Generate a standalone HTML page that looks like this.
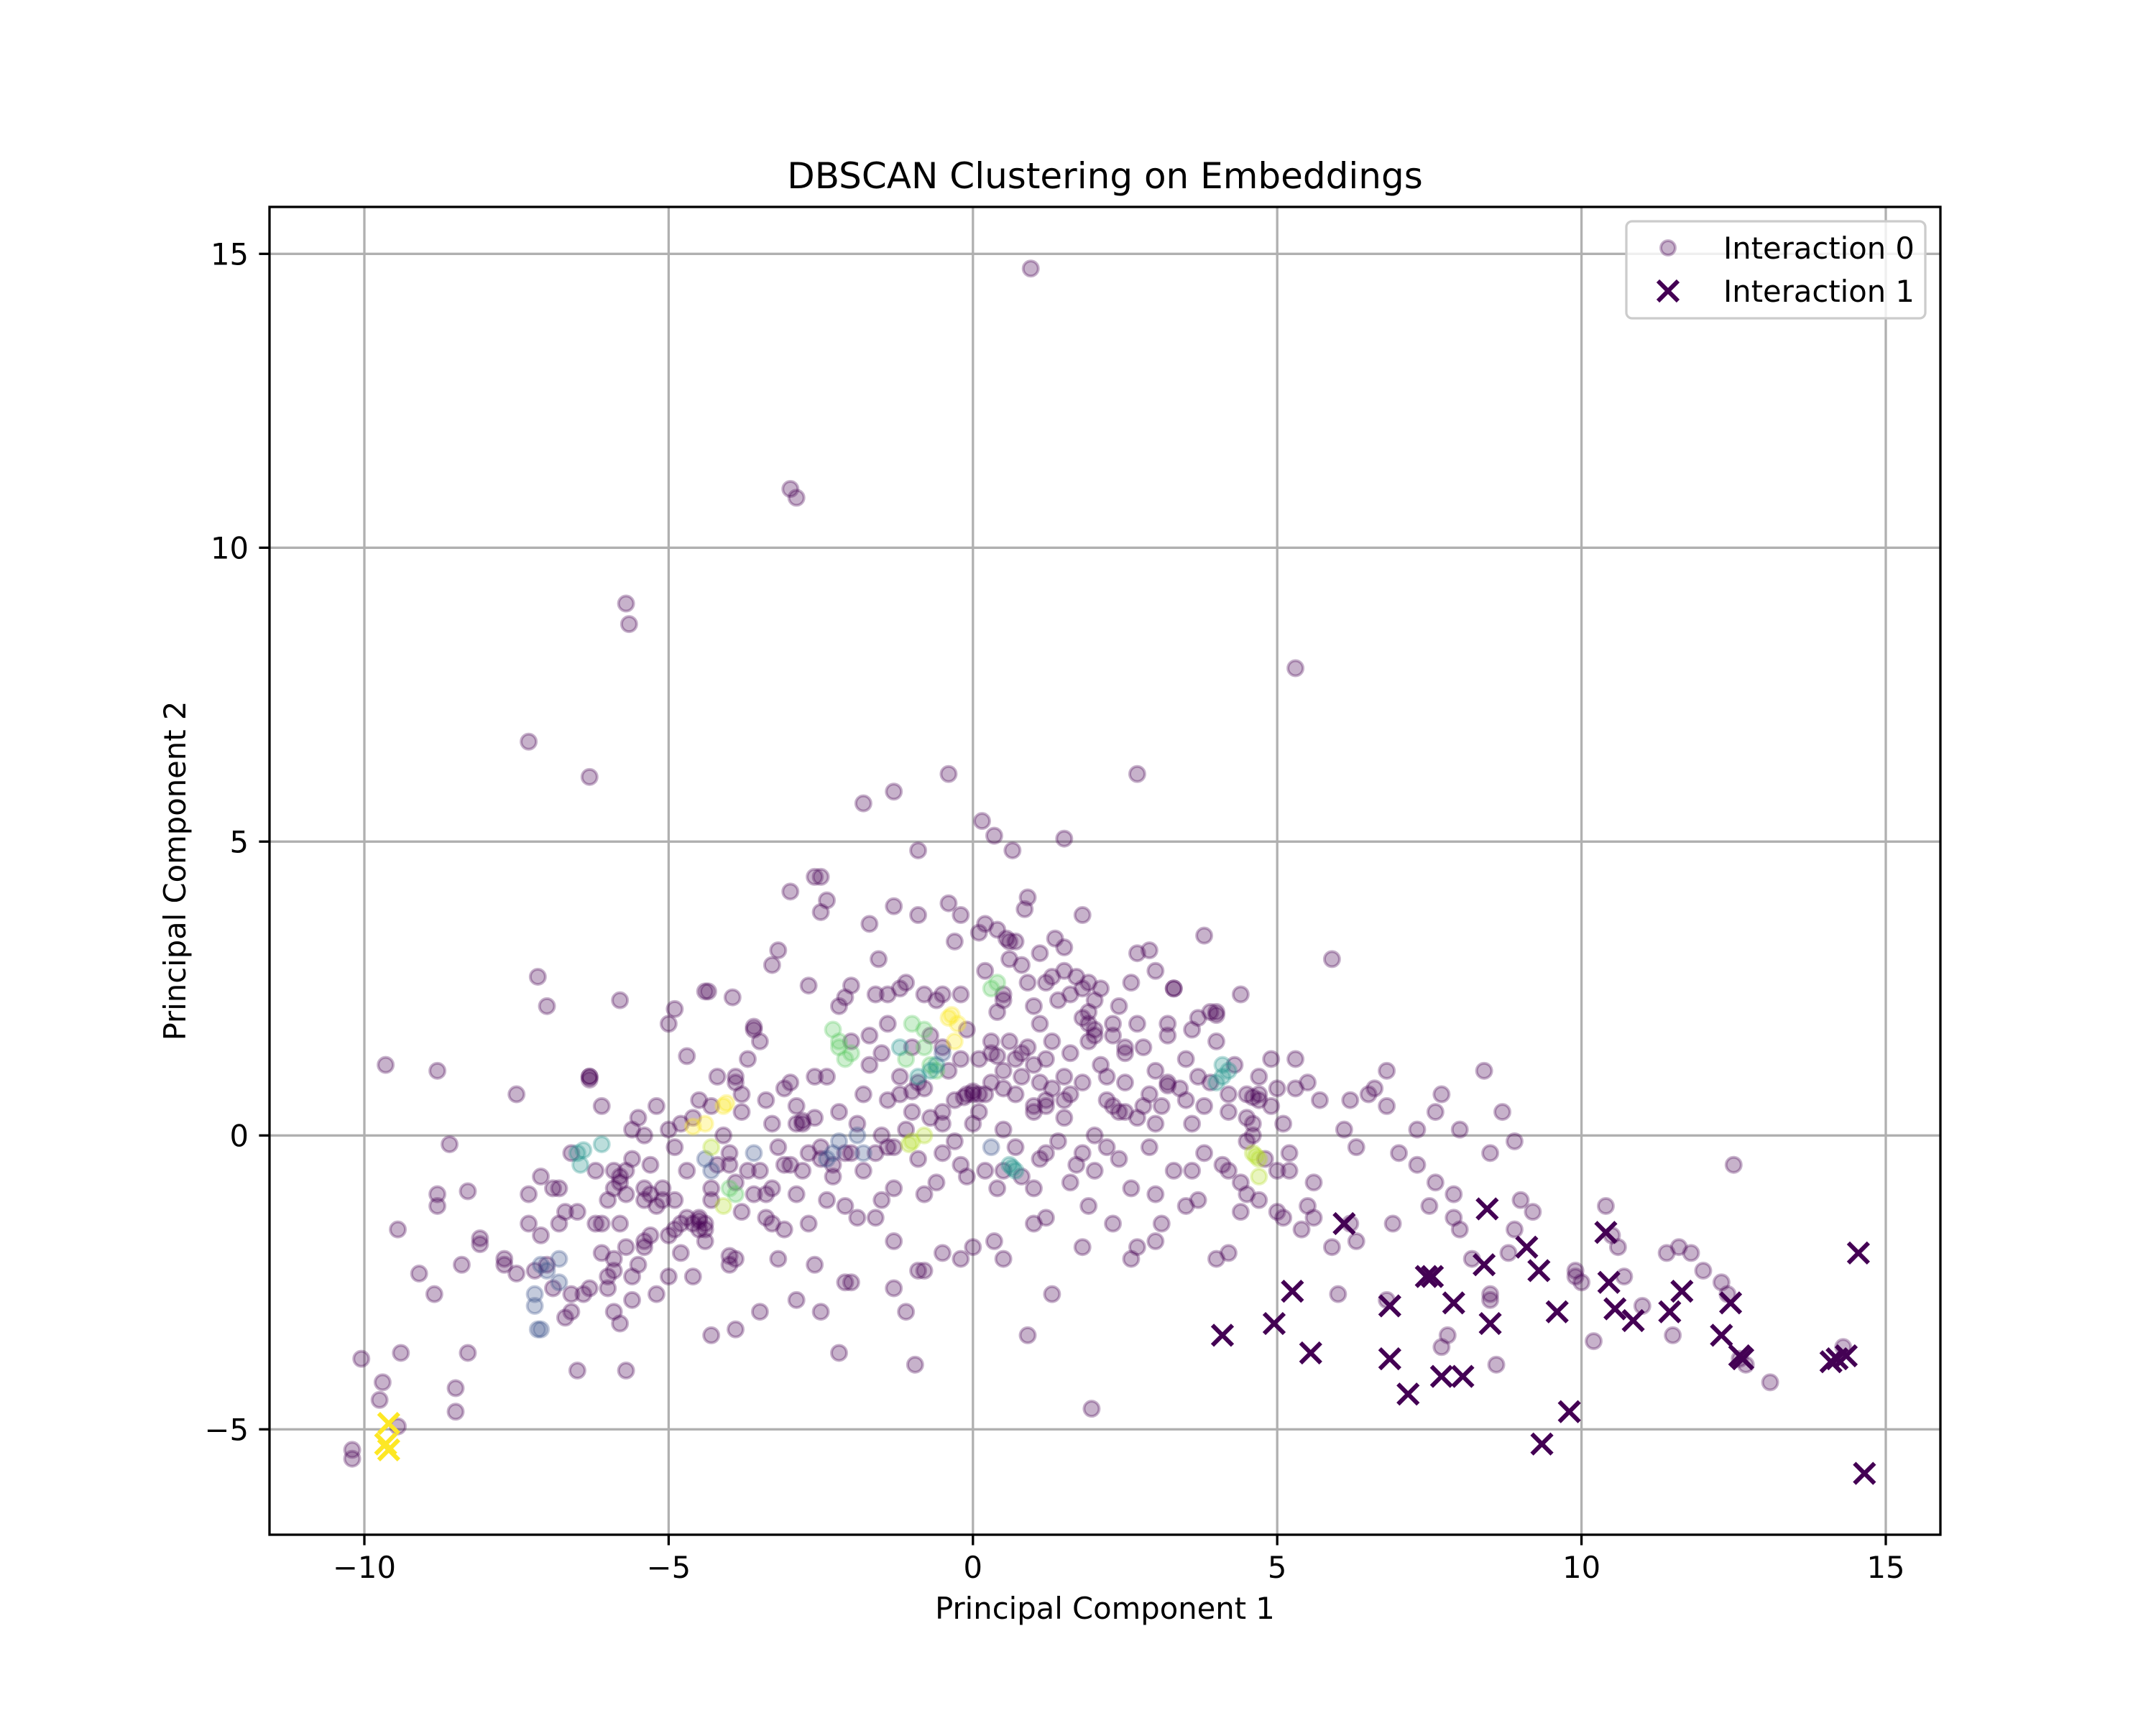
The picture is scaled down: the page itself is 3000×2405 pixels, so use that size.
<!DOCTYPE html>
<html><head><meta charset="utf-8"><style>
html,body{margin:0;padding:0;background:#fff;}
svg text{font-family:"DejaVu Sans","Liberation Sans",sans-serif;fill:#000;}
</style></head><body>
<svg id="chart" width="3000" height="2400" viewBox="0 0 3000 2400" xmlns="http://www.w3.org/2000/svg">
<rect x="0" y="0" width="3000" height="2400" fill="#fff"/>
<g id="grid"></g>
<g id="marks"></g>
<rect x="375" y="288" width="2325" height="1848" fill="none" stroke="#000" stroke-width="3.3"/>
<g id="ticks"></g>
<text x="1537.5" y="262" font-size="50" text-anchor="middle">DBSCAN Clustering on Embeddings</text>
<text x="1537.5" y="2253" font-size="41.7" text-anchor="middle">Principal Component 1</text>
<text x="0" y="0" font-size="41.7" text-anchor="middle" transform="translate(258,1212) rotate(-90)">Principal Component 2</text>
<g>
<rect x="2263" y="308" width="416" height="135" rx="8" fill="#fff" fill-opacity="0.8" stroke="#cccccc" stroke-width="3.3"/>
<circle cx="2321" cy="345" r="10" fill="rgba(68,1,84,0.3)" stroke="rgba(68,1,84,0.3)" stroke-width="4"/>
<path d="M2307 391 L2335 419 M2335 391 L2307 419" stroke="#440154" stroke-width="6"/>
<text x="2398" y="360" font-size="41.7">Interaction 0</text>
<text x="2398" y="420" font-size="41.7">Interaction 1</text>
</g>
</svg>
<script>
const xTicks = [-10, -5, 0, 5, 10, 15];
const yTicks = [-5, 0, 5, 10, 15];
const xTickLabels = ["\u221210", "\u22125", "0", "5", "10", "15"];
const yTickLabels = ["\u22125", "0", "5", "10", "15"];
const clusterColors = ["#440154", "#3b528b", "#21918c", "#5ec962", "#b5de2b", "#fde725"];
// Interaction 0 points: [pc1, pc2, cluster]
const interaction0 = [
[0.95,14.75,0],[-3.0,11.0,0],[-2.9,10.85,0],[-5.7,9.05,0],[-5.65,8.7,0],[5.3,7.95,0],[-7.3,6.7,0],[-6.3,6.1,0],[2.7,6.15,0],[-0.4,6.15,0],
[-1.3,5.85,0],[-1.8,5.65,0],[0.15,5.35,0],[0.35,5.1,0],[1.5,5.05,0],[-0.9,4.85,0],[0.65,4.85,0],[-2.5,4.4,0],[-3.0,4.15,0],[0.9,4.05,0],
[-2.4,4.0,0],[-2.5,3.8,0],[-0.4,3.95,0],[-1.3,3.9,0],[0.85,3.85,0],[-0.2,3.75,0],[1.8,3.75,0],[-0.9,3.75,0],[-1.7,3.6,0],[0.1,3.45,0],
[3.8,3.4,0],[1.35,3.35,0],[-3.2,3.15,0],[2.9,3.15,0],[-1.55,3.0,0],[1.5,3.2,0],
[-9.65,1.2,0],[-8.8,1.1,0],[-7.5,0.7,0],[-7.15,2.7,0],[-7.0,2.2,0],[-5.8,2.3,0],[-5.0,1.9,0],[-4.9,2.15,0],[-4.35,2.45,0],[-3.95,2.35,0],
[-3.3,2.9,0],[-2.7,2.55,0],[-2.1,2.35,0],[-2.0,2.55,0],[-1.7,1.7,0],[-1.4,2.4,0],
[-10.2,-5.35,0],[-10.2,-5.5,0],[-10.05,-3.8,0],[-9.75,-4.5,0],[-9.7,-4.2,0],[-9.45,-4.95,0],[-9.4,-3.7,0],[-9.45,-1.6,0],[-9.1,-2.35,0],[-8.85,-2.7,0],
[-8.8,-1.2,0],[-8.8,-1.0,0],[-8.6,-0.15,0],[-8.5,-4.3,0],[-8.5,-4.7,0],[-8.3,-3.7,0],[-8.3,-0.95,0],[-8.4,-2.2,0],[-8.1,-1.75,0],[-8.1,-1.85,0],
[-7.7,-2.1,0],[-7.7,-2.2,0],[-7.5,-2.35,0],[-7.3,-1.0,0],[-7.2,-2.3,0],[-7.1,-0.7,0],[-7.1,-1.7,0],[-7.0,-2.2,0],[-6.9,-2.6,0],[-6.8,-1.5,0],
[-6.7,-1.3,0],[-6.7,-3.1,0],[-6.6,-3.0,0],[-6.5,-1.3,0],[-6.4,-2.7,0],[-6.3,-2.6,0],[-6.2,-1.5,0],[-6.1,-2.0,0],[-6.0,-2.4,0],[-6.0,-2.6,0],
[-5.9,-3.0,0],[-5.8,-3.2,0],[-5.7,-4.0,0],[-5.6,-2.8,0],[-5.5,-2.2,0],[-5.4,-1.8,0],[-5.2,-2.7,0],[-5.0,-2.4,0],[-4.8,-2.0,0],[-4.6,-2.4,0],
[-4.3,-3.4,0],[-4.0,-2.2,0],[-3.9,-3.3,0],[-3.5,-3.0,0],[-3.2,-2.1,0],[-2.9,-2.8,0],[-2.6,-2.2,0],[-2.5,-3.0,0],[-2.2,-3.7,0],[-2.0,-2.5,0],
[-1.9,-1.4,0],[-1.5,-1.1,0],[-1.3,-1.8,0],[-1.3,-2.6,0],[-1.1,-3.0,0],[-0.95,-3.9,0],[-0.8,-2.3,0],[-0.5,-2.0,0],[-0.2,-2.1,0],[0.0,-1.9,0],
[0.35,-1.8,0],[0.5,-2.1,0],[0.9,-3.4,0],[1.0,-1.5,0],[1.2,-1.4,0],[1.3,-2.7,0],[1.6,-0.8,0],[1.8,-1.9,0],[1.9,-1.2,0],[1.95,-4.65,0],
[2.3,-1.5,0],[2.6,-2.1,0],[2.7,-1.9,0],[3.0,-1.8,0],[3.1,-1.5,0],[3.5,-1.2,0],[3.7,-1.1,0],[4.0,-2.1,0],[4.2,-2.0,0],[4.4,-1.3,0],
[4.5,-1.0,0],[4.7,-1.1,0],[5.0,-1.3,0],[5.1,-1.4,0],[5.4,-1.6,0],[5.5,-1.2,0],[5.6,-1.4,0],[5.9,-1.9,0],[6.0,-2.7,0],[6.2,-1.5,0],
[6.3,-1.8,0],[6.8,-2.8,0],[6.9,-1.5,0],[7.0,-0.3,0],[7.3,-0.5,0],[7.5,-1.2,0],[7.6,-0.8,0],[7.7,-3.6,0],[7.9,-1.0,0],[7.9,-1.4,0],
[8.0,-1.6,0],[8.2,-2.1,0],[8.5,-2.8,0],[8.5,-2.7,0],[8.6,-3.9,0],[8.8,-2.0,0],[8.9,-1.6,0],[9.0,-1.1,0],[9.2,-1.3,0],[9.9,-2.4,0],
[10.0,-2.5,0],[10.4,-1.2,0],[10.5,-1.7,0],[10.6,-1.9,0],[10.7,-2.4,0],[11.0,-2.9,0],[11.4,-2.0,0],[11.5,-3.4,0],[11.6,-1.9,0],[11.8,-2.0,0],
[12.0,-2.3,0],[12.3,-2.5,0],[12.4,-2.7,0],[12.5,-0.5,0],[12.6,-3.8,0],[12.7,-3.9,0],[13.1,-4.2,0],[14.3,-3.6,0],[10.2,-3.5,0],[9.9,-2.3,0],
[7.8,-3.4,0],[5.0,-0.6,0],[5.5,0.9,0],[5.7,0.6,0],[5.9,3.0,0],[6.1,0.1,0],[6.3,-0.2,0],[6.5,0.7,0],[6.6,0.8,0],[6.8,1.1,0],
[6.8,0.5,0],[7.3,0.1,0],[7.6,0.4,0],[8.0,0.1,0],[8.4,1.1,0],[8.7,0.4,0],[8.5,-0.3,0],[8.9,-0.1,0],[7.7,0.7,0],
[-6.3,1.0,0],[-6.1,0.5,0],[-5.9,-0.6,0],[-5.8,-0.8,0],[-5.7,-1.0,0],[-5.6,-0.4,0],[-5.5,0.3,0],[-5.4,0.0,0],[-5.3,-0.5,0],[-5.2,-1.2,0],
[-5.1,-0.9,0],[-5.0,0.1,0],[-5.0,-1.7,0],[-4.9,-0.2,0],[-4.8,-1.5,0],[-4.7,-0.6,0],[-4.6,0.3,0],[-4.5,-1.4,0],[-4.5,-1.6,0],[-4.4,-1.8,0],
[-4.3,0.5,0],[-4.2,-0.5,0],[-4.1,0.0,0],[-4.0,-0.3,0],[-3.9,0.9,0],[-3.8,-1.3,0],[-3.7,1.3,0],[-3.6,1.8,0],[-3.5,1.6,0],[-3.4,0.6,0],
[-3.3,-0.9,0],[-3.2,-0.2,0],[-3.1,0.8,0],[-3.0,-0.5,0],[-2.9,-1.0,0],[-2.8,0.2,0],[-2.7,-1.5,0],[-2.6,0.3,0],[-2.5,-0.2,0],[-2.4,1.0,0],
[-2.3,-0.7,0],[-2.2,0.4,0],[-2.1,-1.2,0],[-2.0,1.6,0],[-1.9,0.2,0],[-1.8,-0.6,0],[-1.7,1.2,0],[-1.6,-0.3,0],[-1.5,1.4,0],[-1.4,0.6,0],
[-1.3,-0.9,0],[-1.2,1.0,0],[-1.1,0.1,0],[-1.0,1.5,0],[-0.9,-0.4,0],[-0.8,0.8,0],[-0.7,1.7,0],[-0.6,-0.8,0],[-0.5,0.4,0],[-0.4,1.1,0],
[-0.3,-0.1,0],[-0.2,2.4,0],[-0.1,0.7,0],[0.0,0.2,0],[0.1,1.3,0],[0.2,-0.6,0],[0.3,0.9,0],[0.4,2.1,0],[0.5,0.1,0],[0.6,1.6,0],
[0.7,-0.2,0],[0.8,1.0,0],[0.9,2.6,0],[1.0,0.5,0],[1.1,1.9,0],[1.2,-0.3,0],[1.3,0.8,0],[1.4,2.3,0],[1.5,0.3,0],[1.6,1.4,0],
[1.7,-0.5,0],[1.8,0.9,0],[1.9,2.1,0],[2.0,0.0,0],[2.1,1.2,0],[2.2,0.6,0],[2.3,1.7,0],[2.4,-0.4,0],[2.5,0.9,0],[2.6,2.6,0],
[2.7,0.3,0],[2.8,1.5,0],[2.9,-0.2,0],[3.0,1.1,0],[3.1,0.5,0],[3.2,1.9,0],[3.3,-0.6,0],[3.4,0.8,0],[3.5,1.3,0],[3.6,0.2,0],
[3.7,2.0,0],[3.8,-0.3,0],[3.9,0.9,0],[4.0,1.6,0],[4.1,-0.5,0],[4.2,0.4,0],[4.3,1.2,0],[4.4,-0.8,0],[4.5,0.7,0],[4.6,0.0,0],
[4.7,1.0,0],[4.8,-0.4,0],[4.9,0.5,0],[5.1,0.2,0],[5.2,-0.3,0],[5.3,1.3,0],
[-3.8,0.4,0],[-3.5,-0.6,0],[-3.3,0.2,0],[-3.0,0.9,0],[-2.8,-0.6,0],[-2.6,1.0,0],[-2.4,-1.1,0],[-2.2,2.2,0],[-2.0,-0.3,0],[-1.8,0.7,0],
[-1.6,2.4,0],[-1.4,-0.2,0],[-1.2,2.5,0],[-1.0,0.4,0],[-0.8,-1.0,0],[-0.6,2.3,0],[-0.5,1.5,0],[-0.3,0.6,0],[-0.1,1.8,0],[0.1,0.4,0],
[0.2,2.8,0],[0.3,1.6,0],[0.5,1.1,0],[0.6,3.0,0],[0.7,0.7,0],[0.8,-0.7,0],[0.9,1.5,0],[1.1,3.1,0],[1.2,0.6,0],[1.3,1.6,0],
[1.5,2.8,0],[1.6,0.7,0],[1.8,2.5,0],[1.9,1.6,0],[2.1,2.5,0],[2.2,-0.2,0],[2.3,0.5,0],[2.4,2.2,0],[2.5,1.5,0],[2.6,-0.9,0],
[2.7,1.9,0],[2.9,0.7,0],[3.0,-1.0,0],[3.2,0.9,0],[3.3,2.5,0],[3.5,0.6,0],[3.6,1.8,0],[3.8,0.5,0],[4.0,2.1,0],[4.2,0.7,0],
[4.4,2.4,0],[4.5,-0.1,0],[4.7,0.7,0],[4.9,1.3,0],[5.0,0.8,0],[5.3,0.8,0],[5.6,-0.8,0],[-0.2,-0.5,0],[0.4,-0.9,0],[1.0,-0.9,0],
[1.4,-0.1,0],[2.0,-0.6,0],[-4.5,0.6,0],[-4.2,1.0,0],[-3.9,-0.8,0],[-3.6,-1.0,0],[-3.4,-1.4,0],[-3.1,-1.6,0],[-2.9,0.5,0],[-5.6,0.1,0],
[-5.4,-1.1,0],[-5.8,-1.5,0],[-6.0,-1.1,0],[-6.2,-0.6,0],[-5.2,0.5,0],[-4.9,-1.1,0],[-4.7,-1.4,0],[-4.4,-1.5,0],[-4.3,-0.9,0],[-4.8,0.2,0],
[-5.9,-2.1,0],[-5.7,-1.9,0],[-5.3,-1.7,0],[-5.6,-2.4,0],[-6.6,-0.3,0],[-6.9,-0.9,0],[-7.3,-1.5,0],[-6.5,-4.0,0],[-4.0,-0.5,0],[-3.7,-0.6,0],
[-2.7,-0.3,0],[-1.5,0.0,0],[-0.9,0.9,0],[-0.5,-0.3,0],[0.0,0.7,0],[0.2,0.7,0],[0.5,0.8,0],[1.0,1.2,0],[1.5,1.0,0],[2.0,1.8,0],
[2.5,0.4,0],[3.0,0.2,0],[1.7,2.7,0],[1.9,2.6,0],[2.3,1.9,0],[0.7,3.3,0],[0.4,3.5,0],[0.8,2.9,0],[1.2,2.6,0],[-2.6,4.4,0],
[-0.3,3.3,0],[0.2,3.6,0],[2.7,3.1,0],[3.0,2.8,0],[1.0,2.2,0],
[-6.3,1.0,0],[-6.3,0.95,0],[-4.4,2.45,0],[-4.7,1.35,0],[-3.9,1.0,0],[-3.6,1.85,0],[0.6,3.3,0],[0.55,3.35,0],[-0.5,2.4,0],[0.5,2.4,0],
[0.5,2.3,0],[1.8,2.0,0],[1.9,1.9,0],[2.0,1.7,0],[2.5,1.4,0],[3.3,2.5,0],[3.2,1.7,0],[3.9,2.1,0],[4.0,2.05,0],[4.5,0.3,0],
[4.6,0.2,0],[4.6,0.65,0],[4.7,0.6,0],[0.0,0.75,0],[0.1,0.7,0],[-0.15,0.65,0],[0.3,1.4,0],[0.4,1.35,0],[0.8,1.4,0],[1.2,1.3,0],
[1.0,0.4,0],[1.2,0.5,0],[1.5,0.6,0],[-1.0,0.75,0],[-1.2,0.7,0],[-1.3,-0.2,0],[-0.5,0.2,0],[-0.7,0.3,0],[-2.1,-0.3,0],[-2.3,-0.5,0],
[-2.5,-0.4,0],[-2.9,0.2,0],[-2.8,0.25,0],[-3.3,-1.5,0],[-3.1,-0.5,0],[-3.9,-2.1,0],[-4.0,-2.05,0],[-3.8,0.7,0],[-4.6,-1.5,0],[-4.5,-1.45,0],
[-4.4,-1.6,0],[-4.9,-1.6,0],[-5.3,-1.0,0],[-5.4,-0.9,0],[-5.7,-0.6,0],[-5.8,-0.7,0],[-5.9,-0.9,0],[-6.1,-1.5,0],[-6.6,-2.7,0],[-6.8,-0.9,0],
[-5.9,-2.3,0],[-5.4,-1.9,0],[-5.1,-1.1,0],[-4.3,-1.1,0],[-3.4,-1.0,0],[-2.1,-2.5,0],[-1.6,-1.4,0],[-0.9,-2.3,0],[-0.1,-0.7,0],[0.5,-0.6,0],
[1.1,-0.4,0],[1.8,-0.3,0],[2.4,0.4,0],[2.8,0.5,0],[3.2,0.85,0],[3.6,-0.6,0],[3.7,1.0,0],[4.2,-0.6,0],[5.2,-0.6,0],[6.2,0.6,0],
[2.0,2.3,0],[1.6,2.4,0],[1.3,2.7,0],[-0.8,2.4,0],[-1.4,1.9,0],[-1.1,2.6,0],[-0.2,1.3,0],[0.7,1.3,0],[1.1,0.9,0],[2.2,1.0,0],
[-2.3,1.8,3],[-2.2,1.5,3],[-2.0,1.4,3],[-1.0,1.9,3],[-0.8,1.5,3],[-1.1,1.3,3],[-0.7,1.2,3],[0.3,2.5,3],[0.4,2.6,3],[-0.6,1.1,3],
[-2.2,1.6,3],[-2.1,1.3,3],[-0.8,1.8,3],[-3.9,-1.0,3],[-4.0,-0.9,3],
[-6.5,-0.3,2],[-6.4,-0.25,2],[-6.1,-0.15,2],[-0.9,1.0,2],[0.6,-0.5,2],[0.7,-0.6,2],[4.0,0.9,2],[4.1,1.0,2],[4.2,1.1,2],
[-6.45,-0.5,2],[-0.7,1.1,2],[-0.6,1.2,2],[0.65,-0.55,2],[4.1,1.2,2],[-1.2,1.5,2],
[-7.2,-2.7,1],[-7.2,-2.9,1],[-7.1,-3.3,1],[-6.8,-2.1,1],[-6.8,-2.5,1],[-7.0,-2.3,1],[-4.4,-0.4,1],[-3.6,-0.3,1],[-2.4,-0.4,1],[-2.2,-0.1,1],
[-1.9,0.0,1],[-1.8,-0.3,1],[0.3,-0.2,1],[-7.15,-3.3,1],[-7.1,-2.2,1],[-0.5,1.4,1],[-2.3,-0.3,1],[-4.3,-0.6,1],
[-4.3,-0.2,4],[-4.1,-1.2,4],[-1.0,-0.1,4],[-0.8,0.0,4],[4.6,-0.3,4],[4.7,-0.4,4],[4.7,-0.7,4],[-1.05,-0.15,4],[4.65,-0.35,4],
[-0.4,2.0,5],[-0.25,1.9,5],[-0.3,1.6,5],[-4.1,0.5,5],[-4.6,0.15,5],[-4.4,0.2,5],[-0.35,2.05,5],[-4.05,0.55,5]
];
// Interaction 1 points: [pc1, pc2, cluster]
const interaction1 = [
[4.1,-3.4,0],[4.95,-3.2,0],[5.25,-2.65,0],[5.55,-3.7,0],[6.1,-1.5,0],[6.85,-2.9,0],[6.85,-3.8,0],[7.15,-4.4,0],[7.45,-2.4,0],[7.55,-2.4,0],
[7.7,-4.1,0],[7.9,-2.85,0],[8.05,-4.1,0],[8.4,-2.2,0],[8.45,-1.25,0],[8.5,-3.2,0],[9.1,-1.9,0],[9.3,-2.3,0],[9.35,-5.25,0],[9.6,-3.0,0],
[9.8,-4.7,0],[10.4,-1.65,0],[10.45,-2.5,0],[10.55,-2.95,0],[10.85,-3.15,0],[11.45,-3.0,0],[11.65,-2.65,0],[12.3,-3.4,0],[12.45,-2.85,0],[12.6,-3.75,0],
[12.65,-3.8,0],[14.1,-3.85,0],[14.2,-3.8,0],[14.35,-3.75,0],[14.55,-2.0,0],[14.65,-5.75,0],
[-9.6,-4.9,5],[-9.65,-5.25,5],[-9.6,-5.35,5]
];
const NS = "http://www.w3.org/2000/svg";
const PL = 375, PR = 2700, PT = 288, PB = 2136;
function sx(v){ return 1353.8 + 84.68 * v; }
function sy(v){ return 1580.3 - 81.8 * v; }
function mk(tag, attrs){ const e = document.createElementNS(NS, tag); for (const k in attrs) e.setAttribute(k, attrs[k]); return e; }
function rgba(hex, a){ const n = parseInt(hex.slice(1), 16); return "rgba(" + (n>>16) + "," + ((n>>8)&255) + "," + (n&255) + "," + a + ")"; }
const grid = document.getElementById("grid");
const ticks = document.getElementById("ticks");
const marks = document.getElementById("marks");
xTicks.forEach(function(t, i){
  const x = sx(t);
  const g = mk("line", {x1:x, x2:x, y1:PT, y2:PB, stroke:"#b0b0b0", "stroke-width":3.3});
  
  
  grid.appendChild(g);
  const tk = mk("line", {x1:x, x2:x, y1:PB, y2:PB+14.6, stroke:"#000", "stroke-width":3.3});
  
  
  ticks.appendChild(tk);
  const lb = mk("text", {x:x, y:PB+60, "font-size":41.7, "text-anchor":"middle"});
  lb.textContent = xTickLabels[i];
  
  
  ticks.appendChild(lb);
});
yTicks.forEach(function(t, i){
  const y = sy(t);
  const g = mk("line", {x1:PL, x2:PR, y1:y, y2:y, stroke:"#b0b0b0", "stroke-width":3.3});
  
  
  grid.appendChild(g);
  const tk = mk("line", {x1:PL-14.6, x2:PL, y1:y, y2:y, stroke:"#000", "stroke-width":3.3});
  
  
  ticks.appendChild(tk);
  const lb = mk("text", {x:PL-29, y:y+15, "font-size":41.7, "text-anchor":"end"});
  lb.textContent = yTickLabels[i];
  
  
  ticks.appendChild(lb);
});
interaction0.forEach(function(p){
  const col = clusterColors[p[2]];
  const c = mk("circle", {cx:sx(p[0]), cy:sy(p[1]), r:10.5, fill:rgba(col,0.3), stroke:rgba(col,0.3), "stroke-width":4});
  
  
  marks.appendChild(c);
});
interaction1.forEach(function(p){
  const col = clusterColors[p[2]];
  const x = sx(p[0]), y = sy(p[1]), h = 14;
  const m = mk("path", {d:"M"+(x-h)+" "+(y-h)+" L"+(x+h)+" "+(y+h)+" M"+(x+h)+" "+(y-h)+" L"+(x-h)+" "+(y+h), stroke:col, "stroke-width":6, fill:"none"});
  
  
  marks.appendChild(m);
});
</script>
</body></html>
